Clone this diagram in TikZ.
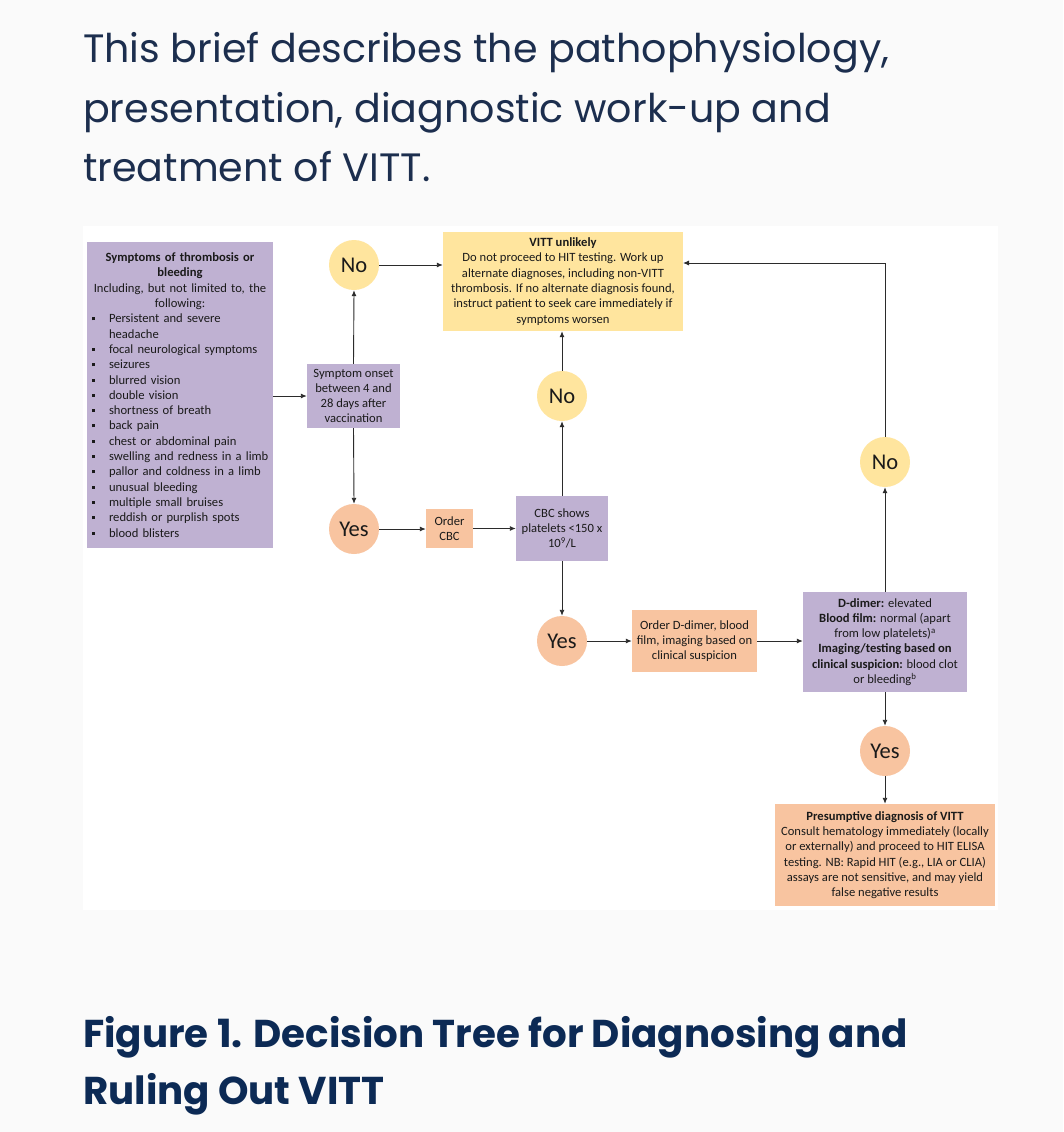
\documentclass[tikz,border=0pt]{standalone}
\usepackage{fontspec}
\setmainfont{Carlito}
\newfontfamily\headfont{Poppins}
\usepackage{enumitem}
\usetikzlibrary{arrows.meta}
\definecolor{bgc}{HTML}{FAFAFA}
\definecolor{ylw}{HTML}{FFE59E}
\definecolor{sal}{HTML}{F8C4A0}
\definecolor{pur}{HTML}{BFB1D2}
\definecolor{navy}{HTML}{1C2E4E}
\definecolor{tnavy}{HTML}{0C2A55}
\definecolor{txt}{HTML}{1A1A1A}
\definecolor{ln}{HTML}{2B2B2B}
\begin{document}
\begin{tikzpicture}[x=1pt,y=-1pt,
  box/.style={rectangle, inner sep=0pt, align=center, text=txt,
    font=\fontsize{12.6}{15.3}\selectfont},
  purbox/.style={box, fill=pur},
  salbox/.style={box, fill=sal},
  ylwbox/.style={box, fill=ylw},
  circ/.style={circle, inner sep=0pt, minimum size=50pt, text=txt,
    font=\fontsize{22.5}{26}\selectfont},
  nocirc/.style={circ, fill=ylw},
  yescirc/.style={circ, fill=sal},
  arr/.style={draw=ln, line width=0.9pt, -{Latex[length=6pt,width=5pt]}},
  headline/.style={anchor=base west, inner sep=0pt, text=navy,
    font=\headfont\fontsize{39.6}{46}\selectfont},
  titleline/.style={anchor=base west, inner sep=0pt, text=tnavy,
    font=\headfont\bfseries\fontsize{38.8}{46}\selectfont}
]
\useasboundingbox (0,0) rectangle (1063,1132);
\fill[bgc] (0,0) rectangle (1063,1132);
\fill[white] (83,226) rectangle (998,910);

% header and title
\node[headline] (h1) at (83,63) {This brief describes the pathophysiology,};
\node[headline] (h2) at (83,122) {presentation, diagnostic work-up and};
\node[headline] (h3) at (83,181) {treatment of VITT.};
\node[titleline] (t1) at (83,1047) {Figure 1. Decision Tree for Diagnosing and};
\node[titleline] (t2) at (83,1104) {Ruling Out VITT};

% nodes
\node[purbox, minimum width=186pt, minimum height=306pt, text width=178pt, align=left] (sym) at (180,395) {%
  {\centering\textbf{Symptoms of thrombosis or\\ bleeding}\\ Including, but not limited to, the\\ following:\par}
  \begin{itemize}[leftmargin=18pt, labelwidth=3pt, labelsep=14pt, itemsep=0pt, topsep=0pt, partopsep=0pt, parsep=0pt,
    label={\rule[2.5pt]{3pt}{3pt}}]
  \item Persistent and severe headache
  \item focal neurological symptoms
  \item seizures
  \item blurred vision
  \item double vision
  \item shortness of breath
  \item back pain
  \item chest or abdominal pain
  \item swelling and redness in a limb
  \item pallor and coldness in a limb
  \item unusual bleeding
  \item multiple small bruises
  \item reddish or purplish spots
  \item blood blisters
  \end{itemize}};
\node[purbox, minimum width=93pt, minimum height=64pt] (onset) at (353.5,396)
  {Symptom onset\\ between 4 and\\ 28 days after\\ vaccination};
\node[nocirc] (no1) at (354,265) {No};
\node[yescirc] (yes1) at (354,529) {Yes};
\node[salbox, minimum width=47pt, minimum height=39pt] (ocbc) at (449.5,528.5) {Order\\ CBC};
\node[purbox, minimum width=92pt, minimum height=65pt] (cbc) at (562,528.5)
  {CBC shows\\ platelets <150 x\\ 10\textsuperscript{9}/L};
\node[nocirc] (no2) at (562,396) {No};
\node[ylwbox, minimum width=240pt, minimum height=99pt] (vitt) at (563,281.5)
  {\textbf{VITT unlikely}\\ Do not proceed to HIT testing. Work up\\ alternate diagnoses, including non-VITT\\
   thrombosis. If no alternate diagnosis found,\\ instruct patient to seek care immediately if\\ symptoms worsen};
\node[yescirc] (yes2) at (562,641) {Yes};
\node[salbox, minimum width=125pt, minimum height=62pt] (odd) at (694.5,641)
  {Order D-dimer, blood\\ film, imaging based on\\ clinical suspicion};
\node[purbox, minimum width=164pt, minimum height=100pt] (dd) at (885,642)
  {\textbf{D-dimer:} elevated\\ \textbf{Blood film:} normal (apart\\ from low platelets)\textsuperscript{a}\\
   \textbf{Imaging/testing based on}\\ \textbf{clinical suspicion:} blood clot\\ or bleeding\textsuperscript{b}};
\node[nocirc] (no3) at (885,462) {No};
\node[yescirc] (yes3) at (885,751) {Yes};
\node[salbox, minimum width=220pt, minimum height=102pt] (pres) at (885,855)
  {\textbf{Presumptive diagnosis of VITT}\\ Consult hematology immediately (locally\\ or externally) and proceed to HIT ELISA\\
   testing. NB: Rapid HIT (e.g., LIA or CLIA)\\ assays are not sensitive, and may yield\\ false negative results};
\coordinate (vin) at (683,263);

% connectors
\draw[arr] (sym.east |- onset.west) -- (onset.west);
\draw[arr] (onset.north) -- (no1.south);
\draw[arr] (no1.east) -- (no1.east -| vitt.west);
\draw[arr] (onset.south) -- (yes1.north);
\draw[arr] (yes1.east) -- (yes1.east -| ocbc.west);
\draw[arr] (ocbc.east) -- (ocbc.east -| cbc.west);
\draw[arr] (cbc.north) -- (no2.south);
\draw[arr] (no2.north) -- (no2.north |- vitt.south);
\draw[arr] (cbc.south) -- (yes2.north);
\draw[arr] (yes2.east) -- (yes2.east -| odd.west);
\draw[arr] (odd.east) -- (odd.east -| dd.west);
\draw[arr] (dd.north) -- (no3.south);
\draw[arr] (no3.north) |- (vin);
\draw[arr] (dd.south) -- (yes3.north);
\draw[arr] (yes3.south) -- (pres.north);
\end{tikzpicture}
\end{document}
